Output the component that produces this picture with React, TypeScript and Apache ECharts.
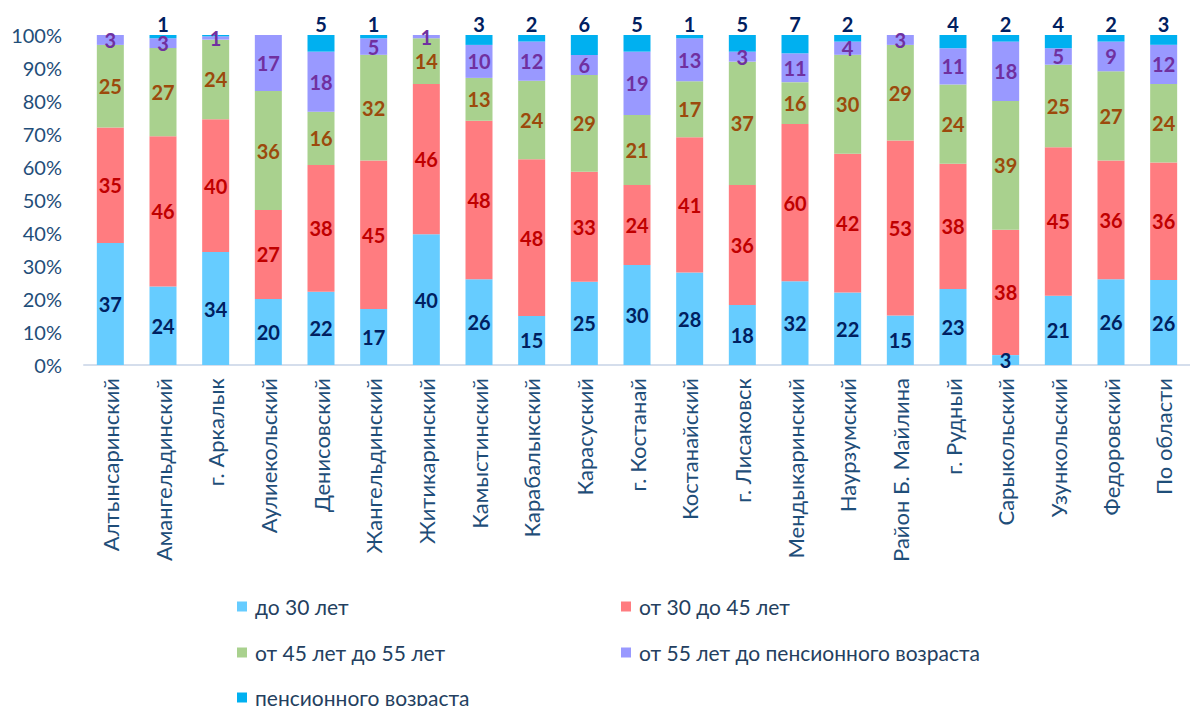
import React, { useEffect, useRef } from "react";
import * as echarts from "echarts";

const categories = [
  "Алтынсаринский", "Амангельдинский", "г. Аркалык", "Аулиекольский", "Денисовский",
  "Жангельдинский", "Житикаринский", "Камыстинский", "Карабалыкский", "Карасуский",
  "г. Костанай", "Костанайский", "г. Лисаковск", "Мендыкаринский", "Наурзумский",
  "Район Б. Майлина", "г. Рудный", "Сарыкольский", "Узункольский", "Федоровский", "По области",
];

const seriesNames = [
  "до 30 лет",
  "от 30 до 45 лет",
  "от 45 лет до 55 лет",
  "от 55 лет до пенсионного возраста",
  "пенсионного возраста",
];

const under30 = [37, 24, 34, 20, 22, 17, 40, 26, 15, 25, 30, 28, 18, 32, 22, 15, 23, 3, 21, 26, 26];
const from30to45 = [35, 46, 40, 27, 38, 45, 46, 48, 48, 33, 24, 41, 36, 60, 42, 53, 38, 38, 45, 36, 36];
const from45to55 = [25, 27, 24, 36, 16, 32, 14, 13, 24, 29, 21, 17, 37, 16, 30, 29, 24, 39, 25, 27, 24];
const from55toPension = [3, 3, 1, 17, 18, 5, 1, 10, 12, 6, 19, 13, 3, 11, 4, 3, 11, 18, 5, 9, 12];
const pension = [0, 1, 0.4, 0, 5, 1, 0, 3, 2, 6, 5, 1, 5, 7, 2, 0, 4, 2, 4, 2, 3];

const yTicks = [0, 10, 20, 30, 40, 50, 60, 70, 80, 90, 100];

const barColors = ["#66CCFF", "#FF7C80", "#A9D18E", "#9999FF", "#00B0F0"];
const labelColors = ["#002060", "#C00000", "#9C4A0C", "#7030A0", "#002060"];

// legend slot for each series: [left, top]
const legendSlots: [number, number][] = [
  [237, 596],
  [621, 596],
  [237, 642],
  [621, 642],
  [237, 687],
];

const FONT = "Lato, 'Open Sans', sans-serif";

export default function App() {
  const ref = useRef<HTMLDivElement>(null);

  useEffect(() => {
    if (!ref.current) return;
    const chart = echarts.init(ref.current, null, { renderer: "svg" });
    const raw = [under30, from30to45, from45to55, from55toPension, pension];
    const totals = categories.map((_, i) => raw.reduce((s, arr) => s + arr[i], 0));

    const series = raw.map((arr, k) => ({
      name: seriesNames[k],
      type: "bar",
      stack: "total",
      barWidth: 27,
      itemStyle: { color: barColors[k] },
      data: arr.map((v, i) => (v / totals[i]) * 100),
      label: {
        show: true,
        position: k === 4 ? "top" : "inside",
        distance: 1,
        color: labelColors[k],
        fontFamily: FONT,
        fontWeight: "bold",
        fontSize: 20,
        formatter: (p: any) => {
          const v = arr[p.dataIndex];
          return v < 0.5 ? "" : String(Math.round(v));
        },
      },
      emphasis: { disabled: true },
    }));

    const legends = seriesNames.map((name, k) => ({
      data: [name],
      left: legendSlots[k][0],
      top: legendSlots[k][1],
      padding: 0,
      itemWidth: 10,
      itemHeight: 10,
      icon: "rect",
      selectedMode: false,
      textStyle: {
        fontSize: 21,
        color: "#243F60",
        fontFamily: FONT,
        lineHeight: 20,
        padding: [0, 0, 0, 3],
      },
    }));

    chart.setOption({
      animation: false,
      textStyle: { fontFamily: FONT },
      grid: { left: 84, top: 35, width: 1117, height: 330 },
      xAxis: {
        type: "category",
        data: categories,
        axisTick: { show: false },
        axisLine: { show: true, lineStyle: { color: "#D5DEEC", width: 2 } },
        axisLabel: {
          interval: 0,
          rotate: 90,
          margin: 13,
          fontSize: 22,
          color: "#1F4E79",
          fontFamily: FONT,
        },
      },
      yAxis: {
        type: "value",
        min: yTicks[0],
        max: yTicks[yTicks.length - 1],
        interval: 10,
        splitLine: { show: false },
        axisLine: { show: false },
        axisTick: { show: false },
        axisLabel: {
          formatter: "{value}%",
          fontSize: 20,
          margin: 22,
          color: "#1F4E79",
          fontFamily: FONT,
        },
      },
      legend: legends,
      series,
    });
    return () => chart.dispose();
  }, []);

  return (
    <div
      ref={ref}
      style={{ position: "absolute", left: 0, top: 0, width: 1190, height: 706, background: "#fff" }}
    />
  );
}
